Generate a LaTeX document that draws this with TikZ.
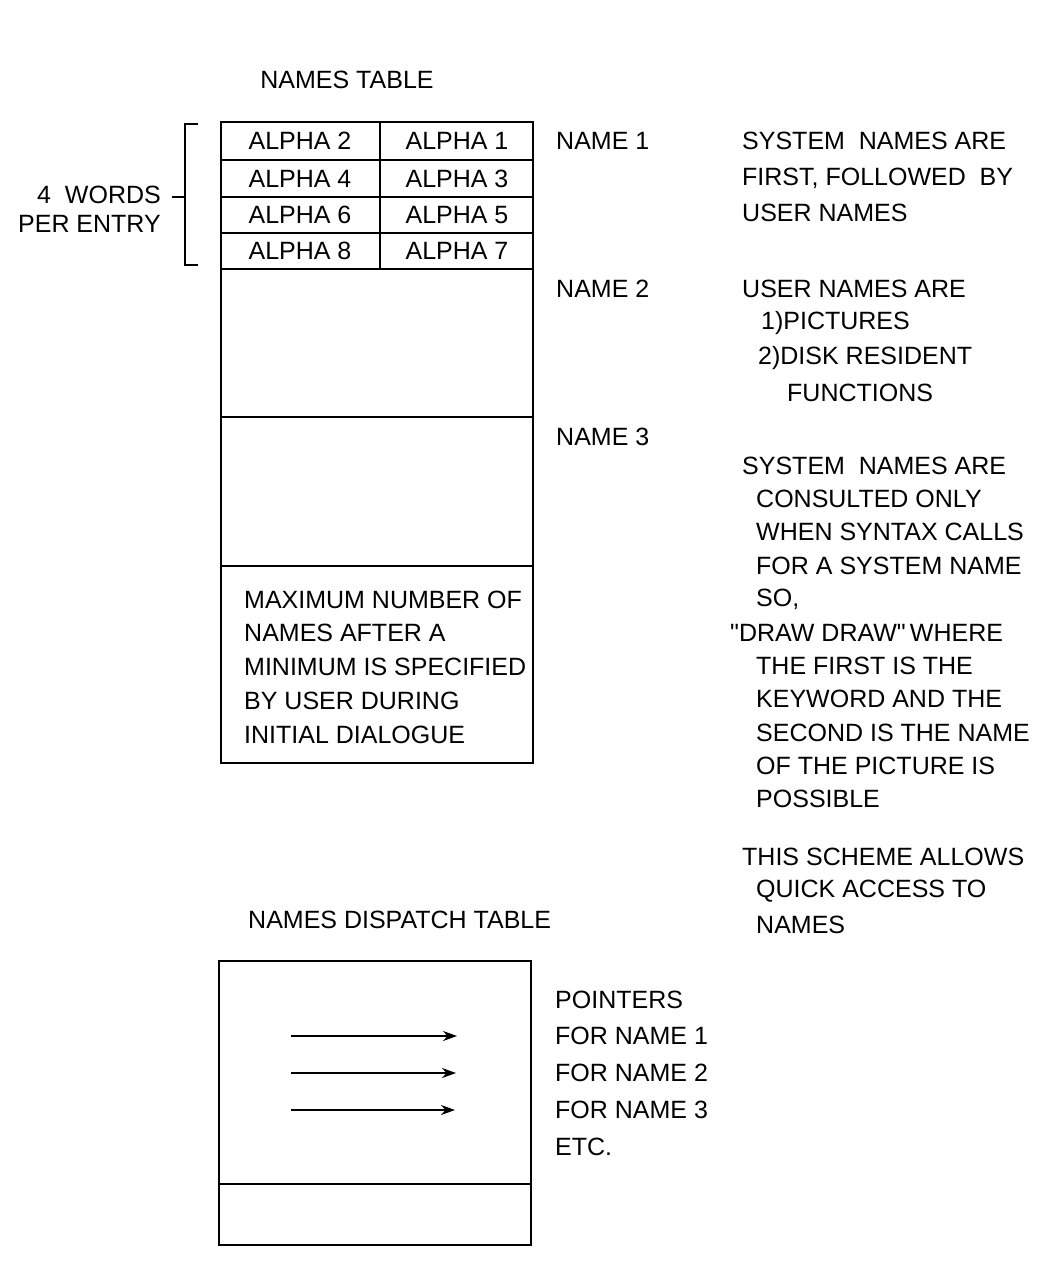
\documentclass[tikz,border=0pt]{standalone}
\usepackage{fontspec}
\setmainfont{Liberation Sans}[Ligatures=TeXOff]
\usetikzlibrary{arrows.meta}
\newcommand{\qq}{\symbol{34}}
\begin{document}
\begin{tikzpicture}[x=1pt,y=-1pt,
  txt/.style={anchor=west,inner sep=0pt,font=\fontsize{25}{33.7}\selectfont},
  etxt/.style={anchor=east,inner sep=0pt,font=\fontsize{25}{33.7}\selectfont},
  ctxt/.style={anchor=center,inner sep=0pt,font=\fontsize{25}{33.7}\selectfont},
  frame/.style={line width=2pt,line join=miter},
  ptr/.style={line width=1.8pt,-{Stealth[length=14pt,width=10pt]}}]
\useasboundingbox (0,0) rectangle (1056,1269);
% ---------- names table ----------
\node[ctxt] (title1) at (347,80) {NAMES TABLE};
\draw[frame] (221,122) rectangle (533,763);
\foreach \yy in {160,197,233,269,417,566}{\draw[frame] (221,\yy) -- (533,\yy);}
\draw[frame] (380,122) -- (380,269);
\node[ctxt] (a2) at (300,141) {ALPHA 2};
\node[ctxt] (a1) at (457,141) {ALPHA 1};
\node[ctxt] (a4) at (300,179) {ALPHA 4};
\node[ctxt] (a3) at (457,179) {ALPHA 3};
\node[ctxt] (a6) at (300,215) {ALPHA 6};
\node[ctxt] (a5) at (457,215) {ALPHA 5};
\node[ctxt] (a8) at (300,251) {ALPHA 8};
\node[ctxt] (a7) at (457,251) {ALPHA 7};
\node[txt,align=left] (maxn) at (244,667) {MAXIMUM NUMBER OF\\NAMES AFTER A\\MINIMUM IS SPECIFIED\\BY USER DURING\\INITIAL DIALOGUE};
% bracket
\coordinate (bt) at (198,124);
\coordinate (bb) at (198,265);
\coordinate (bm) at (172,197);
\draw[frame] (bt) -- (185,124) -- (185,265) -- (bb);
\draw[frame] (bm) -- (185,197);
\node[etxt] (w4) at (161,195) {4\ \ WORDS};
\node[etxt] (pe) at (161,224) {PER ENTRY};
% name labels
\node[txt] (n1) at (556,141) {NAME 1};
\node[txt] (n2) at (556,289) {NAME 2};
\node[txt] (n3) at (556,437) {NAME 3};
% right notes
\node[txt] (r1) at (742,141) {SYSTEM\ \ NAMES ARE};
\node[txt] (r2) at (742,178) {FIRST, FOLLOWED\ \ BY};
\node[txt] (r3) at (742,213) {USER NAMES};
\node[txt] (r4) at (742,289) {USER NAMES ARE};
\node[txt] (r5) at (761,323) {1)PICTURES};
\node[txt] (r6) at (758,358) {2)DISK RESIDENT};
\node[txt] (r7) at (787,393) {FUNCTIONS};
\node[txt] (s1) at (742,466) {SYSTEM\ \ NAMES ARE};
\node[txt] (s2) at (756,499) {CONSULTED ONLY};
\node[txt] (s3) at (756,532) {WHEN SYNTAX CALLS};
\node[txt] (s4) at (756,566) {FOR A SYSTEM NAME};
\node[txt] (s5) at (756,599) {SO,};
\node[txt] (s6) at (730,633) {\qq DRAW DRAW\qq\,WHERE};
\node[txt] (s7) at (756,666) {THE FIRST IS THE};
\node[txt] (s8) at (756,699) {KEYWORD AND THE};
\node[txt] (s9) at (756,733) {SECOND IS THE NAME};
\node[txt] (s10) at (756,766) {OF THE PICTURE IS};
\node[txt] (s11) at (756,799) {POSSIBLE};
\node[txt] (t1) at (742,857) {THIS SCHEME ALLOWS};
\node[txt] (t2) at (756,891) {QUICK ACCESS TO};
\node[txt] (t3) at (756,925) {NAMES};
% ---------- dispatch table ----------
\node[txt] (title2) at (248,920) {NAMES DISPATCH TABLE};
\draw[frame] (219,961) rectangle (531,1245);
\draw[frame] (219,1184) -- (531,1184);
\coordinate (p1s) at (291,1036); \coordinate (p1e) at (457,1036);
\coordinate (p2s) at (291,1073); \coordinate (p2e) at (456,1073);
\coordinate (p3s) at (291,1110); \coordinate (p3e) at (455,1110);
\draw[ptr] (p1s) -- (p1e);
\draw[ptr] (p2s) -- (p2e);
\draw[ptr] (p3s) -- (p3e);
\node[txt] (q1) at (555,1000) {POINTERS};
\node[txt] (q2) at (555,1036) {FOR NAME 1};
\node[txt] (q3) at (555,1073) {FOR NAME 2};
\node[txt] (q4) at (555,1110) {FOR NAME 3};
\node[txt] (q5) at (555,1147) {ETC.};
\end{tikzpicture}
\end{document}
